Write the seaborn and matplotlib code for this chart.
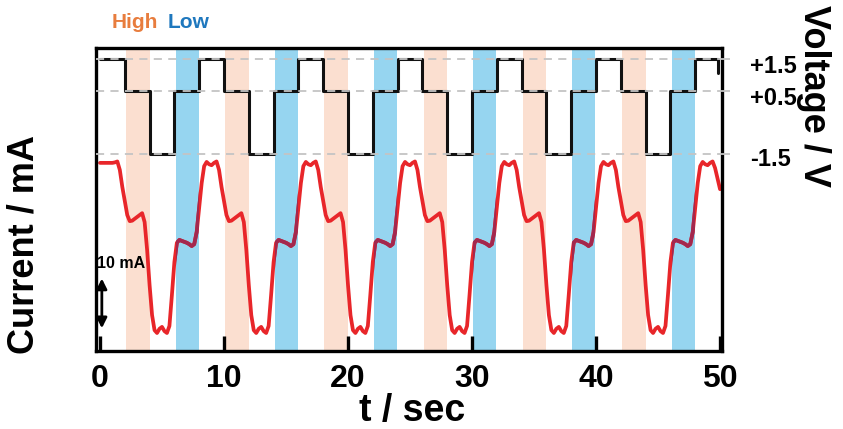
import numpy as np
import matplotlib
matplotlib.use("Agg")
import matplotlib.pyplot as plt
import matplotlib.transforms as mtransforms
import seaborn as sns

# ---------------- data ----------------
time_s = np.linspace(0, 50, 251)
current_mA = [
    # 0 - 7.8 s
    19.6, 19.6, 19.6, 19.6, 19.6, 19.6, 19.7, 19.9, 18.1, 14.5,
    11.5, 8.5, 7.2, 7.3, 7.7, 8.1, 8.5, 8.9, 7.0, 1.1,
    -6.4, -12.8, -16.0, -16.6, -15.7, -15.3, -16.2, -16.6, -15.1, -8.5,
    -1.5, 2.6, 3.2, 3.0, 2.8, 2.6, 2.3, 1.9, 2.3, 4.9,
    # 8 - 15.8 s
    10.0, 15.3, 18.9, 19.8, 19.3, 19.1, 19.6, 19.9, 18.1, 14.5,
    11.5, 8.5, 7.2, 7.3, 7.7, 8.1, 8.5, 8.9, 7.0, 1.1,
    -6.4, -12.8, -16.0, -16.6, -15.7, -15.3, -16.2, -16.6, -15.1, -8.5,
    -1.5, 2.6, 3.2, 3.0, 2.8, 2.6, 2.3, 1.9, 2.3, 4.9,
    # 16 - 23.8 s
    10.0, 15.3, 18.9, 19.8, 19.3, 19.1, 19.6, 19.9, 18.1, 14.5,
    11.5, 8.5, 7.2, 7.3, 7.7, 8.1, 8.5, 8.9, 7.0, 1.1,
    -6.4, -12.8, -16.0, -16.6, -15.7, -15.3, -16.2, -16.6, -15.1, -8.5,
    -1.5, 2.6, 3.2, 3.0, 2.8, 2.6, 2.3, 1.9, 2.3, 4.9,
    # 24 - 31.8 s
    10.0, 15.3, 18.9, 19.8, 19.3, 19.1, 19.6, 19.9, 18.1, 14.5,
    11.5, 8.5, 7.2, 7.3, 7.7, 8.1, 8.5, 8.9, 7.0, 1.1,
    -6.4, -12.8, -16.0, -16.6, -15.7, -15.3, -16.2, -16.6, -15.1, -8.5,
    -1.5, 2.6, 3.2, 3.0, 2.8, 2.6, 2.3, 1.9, 2.3, 4.9,
    # 32 - 39.8 s
    10.0, 15.3, 18.9, 19.8, 19.3, 19.1, 19.6, 19.9, 18.1, 14.5,
    11.5, 8.5, 7.2, 7.3, 7.7, 8.1, 8.5, 8.9, 7.0, 1.1,
    -6.4, -12.8, -16.0, -16.6, -15.7, -15.3, -16.2, -16.6, -15.1, -8.5,
    -1.5, 2.6, 3.2, 3.0, 2.8, 2.6, 2.3, 1.9, 2.3, 4.9,
    # 40 - 47.8 s
    10.0, 15.3, 18.9, 19.8, 19.3, 19.1, 19.6, 19.9, 18.1, 14.5,
    11.5, 8.5, 7.2, 7.3, 7.7, 8.1, 8.5, 8.9, 7.0, 1.1,
    -6.4, -12.8, -16.0, -16.6, -15.7, -15.3, -16.2, -16.6, -15.1, -8.5,
    -1.5, 2.6, 3.2, 3.0, 2.8, 2.6, 2.3, 1.9, 2.3, 4.9,
    # 48 - 50 s
    10.0, 15.3, 18.9, 19.8, 19.3, 19.1, 19.6, 19.9, 18.5, 16.3, 14.0,
]

voltage_t = [0, 2, 4, 6, 8, 10, 12, 14, 16, 18, 20, 22, 24, 26, 28, 30,
             32, 34, 36, 38, 40, 42, 44, 46, 48, 49.85]
voltage_V = [1.5, 0.5, -1.5, 0.5, 1.5, 0.5, -1.5, 0.5, 1.5, 0.5, -1.5, 0.5,
             1.5, 0.5, -1.5, 0.5, 1.5, 0.5, -1.5, 0.5, 1.5, 0.5, -1.5, 0.5,
             1.5, 1.05]

high_start = [2.1, 10.1, 18.1, 26.1, 34.1, 42.1]
high_end = [4.0, 12.0, 20.0, 28.0, 36.0, 44.0]
low_start = [6.1, 14.1, 22.1, 30.1, 38.1, 46.1]
low_end = [7.95, 15.95, 23.95, 31.95, 39.95, 47.95]

voltage_ticks = [1.5, 0.5, -1.5]
voltage_ticklabels = ["+1.5", "+0.5", "-1.5"]
time_ticks = [0, 10, 20, 30, 40, 50]

# ---------------- style ----------------
sns.set_theme(style="white")
plt.rcParams["font.family"] = ["Liberation Sans", "DejaVu Sans"]
plt.rcParams["font.weight"] = "bold"
for key in ["text.color", "axes.labelcolor", "xtick.color", "ytick.color",
            "axes.edgecolor"]:
    plt.rcParams[key] = "black"

RED = "#E8262A"
RED_DARK = "#A3284E"
ORANGE_BAND = "#FBDFD0"
BLUE_BAND = "#96D5F0"
GRID = "#C4C4C4"

fig = plt.figure(figsize=(8.43, 4.29), dpi=100)
ax = fig.add_axes([0.1133, 0.1818, 0.7432, 0.7063])
ax.set_facecolor("white")

# shaded bands
blue_patches = []
for a, b in zip(high_start, high_end):
    ax.axvspan(a, b, color=ORANGE_BAND, lw=0, zorder=0)
for a, b in zip(low_start, low_end):
    blue_patches.append(ax.axvspan(a, b, color=BLUE_BAND, lw=0, zorder=0))

# current trace
sns.lineplot(x=time_s, y=current_mA, ax=ax, color=RED, linewidth=2.7,
             zorder=3, sort=False)
for p in blue_patches:
    sns.lineplot(x=time_s, y=current_mA, ax=ax, color=RED_DARK,
                 linewidth=2.7, zorder=3.1, sort=False)
    ax.lines[-1].set_clip_path(p)

ax.set_xlim(-0.36, 50.16)
ax.set_ylim(-20.43, 44.04)
ax.set_xlabel("")
ax.set_ylabel("")

# 10 mA scale bar
ax.annotate("", xy=(0.15, -15.6), xytext=(0.15, -5.0),
            arrowprops=dict(arrowstyle="<|-|>", color="black", lw=2.0,
                            mutation_scale=15, shrinkA=0, shrinkB=0), zorder=6)
ax.text(-0.2, -1.9, "10 mA", fontsize=11.5, fontweight="bold",
        ha="left", va="center", zorder=6, color="black")

# voltage axis
ax2 = ax.twinx()
sns.lineplot(x=voltage_t, y=voltage_V, ax=ax2, color="#111111",
             linewidth=2.2, drawstyle="steps-post", zorder=3, sort=False)
for v in voltage_ticks:
    ax2.axhline(v, color=GRID, lw=1.3, ls=(0, (4.5, 3.5)), zorder=5)
ax2.set_ylim(-7.72, 1.847)
ax2.set_xlim(-0.36, 50.16)
ax2.set_yticks(voltage_ticks)
ax2.set_yticklabels(voltage_ticklabels)
ax2.set_ylabel("")
ax2.set_xlabel("")
for s in ax2.spines.values():
    s.set_visible(False)

# ticks (after twinx so they are not reset)
ax.set_xticks(time_ticks)
ax.set_xticklabels([str(v) for v in time_ticks])
ax.tick_params(axis="x", direction="in", length=11, width=2.4,
               labelsize=23, pad=9, bottom=True, top=False,
               color="black", labelcolor="black")
ax.tick_params(axis="y", which="both", left=False, right=False,
               labelleft=False, labelright=False)
ax.yaxis.set_ticks([])
for lab in ax.get_xticklabels():
    lab.set_fontweight("bold")
for s in ax.spines.values():
    s.set_visible(True)
    s.set_linewidth(2.4)
    s.set_color("black")
    s.set_zorder(10)

ax2.tick_params(axis="y", direction="out", length=6, width=1.3,
                color=GRID, labelcolor="black", labelsize=17, pad=14,
                right=True, left=False, labelleft=False, labelright=True)
offsets = [-5, -5, -3]
for lab, off in zip(ax2.get_yticklabels(), offsets):
    lab.set_fontweight("bold")
    lab.set_transform(lab.get_transform() +
                      mtransforms.ScaledTranslation(0, off / 100.0,
                                                    fig.dpi_scale_trans))

# labels
fig.text(24 / 843, 1 - 245 / 429, "Current / mA", rotation=90, fontsize=26,
         fontweight="bold", ha="center", va="center", color="black")
fig.text(813 / 843, 1 - 96 / 429, "Voltage / V", rotation=270, fontsize=26,
         fontweight="bold", ha="center", va="center", color="black")
fig.text(412 / 843, 1 - 411 / 429, "t / sec", fontsize=27,
         fontweight="bold", ha="center", va="center", color="black")
fig.text(112 / 843, 1 - 22 / 429, "High", fontsize=15, fontweight="bold",
         color="#E87D3E", ha="left", va="center")
fig.text(168 / 843, 1 - 22 / 429, "Low", fontsize=15, fontweight="bold",
         color="#1F78BE", ha="left", va="center")

fig.savefig("out.png", dpi=100)
